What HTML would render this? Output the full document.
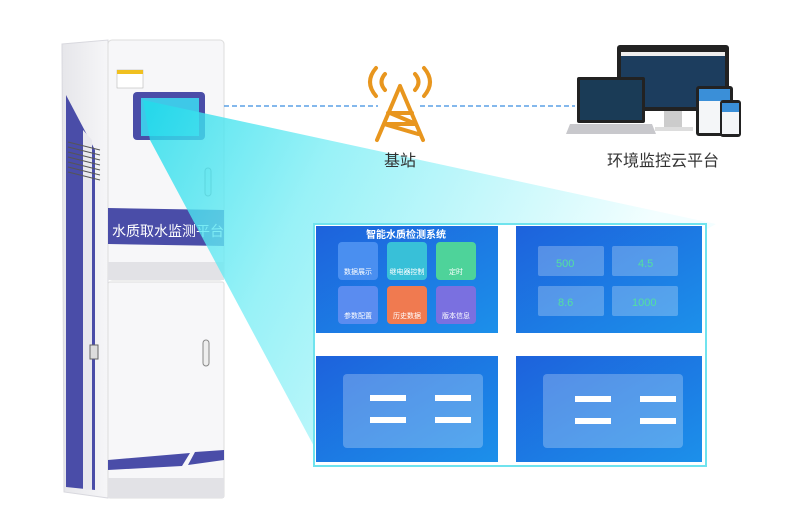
<!DOCTYPE html>
<html><head><meta charset="utf-8"><style>
html,body{margin:0;padding:0;background:#fff;width:800px;height:518px;overflow:hidden}
svg{display:block}
text{font-family:"Liberation Sans","Noto Sans CJK SC",sans-serif}
</style></head><body>
<svg width="800" height="518" viewBox="0 0 800 518" xmlns="http://www.w3.org/2000/svg">
<defs>
<linearGradient id="beam" gradientUnits="userSpaceOnUse" x1="150" y1="110" x2="600" y2="330">
<stop offset="0" stop-color="#22dceb"/><stop offset="0.35" stop-color="#7eeef5"/><stop offset="1" stop-color="#f0feff"/></linearGradient>
<linearGradient id="scr" x1="0" y1="0" x2="1" y2="1"><stop offset="0" stop-color="#1d62dc"/><stop offset="1" stop-color="#1c90ea"/></linearGradient>
<linearGradient id="side" x1="0" y1="0" x2="1" y2="0"><stop offset="0" stop-color="#e6e6ea"/><stop offset="1" stop-color="#f6f6f8"/></linearGradient>
</defs>
<!-- cabinet side -->
<polygon points="62,44 108,40 108,498 64,492" fill="url(#side)" stroke="#d8d8de"/>
<polygon points="66,95 95,150 95,490 66,487" fill="#4a4da8"/>
<polygon points="83,130 92,140 92,490 83,489" fill="#e8e8ee"/>
<g stroke="#555" stroke-width="1">
<line x1="68" y1="142" x2="100" y2="150"/><line x1="68" y1="147" x2="100" y2="155"/><line x1="68" y1="152" x2="100" y2="160"/><line x1="68" y1="157" x2="100" y2="165"/><line x1="68" y1="162" x2="100" y2="170"/><line x1="68" y1="167" x2="100" y2="175"/><line x1="68" y1="172" x2="100" y2="180"/></g>
<rect x="90" y="345" width="8" height="14" fill="#ddd" stroke="#666"/>
<!-- front -->
<rect x="108" y="40" width="116" height="240" rx="4" fill="#f7f7f9" stroke="#ddd"/>
<rect x="108" y="282" width="116" height="216" rx="2" fill="#f7f7f9" stroke="#ddd"/>
<rect x="108" y="262" width="116" height="18" fill="#e2e2e6"/>
<rect x="108" y="478" width="116" height="20" fill="#e2e2e6"/>
<polygon points="108,460 190,453 182,466 108,470" fill="#4a4da8"/>
<polygon points="195,452 224,450 224,460 188,465" fill="#4a4da8"/>
<polygon points="108,208 224,210 224,246 108,244" fill="#4a4da8"/>
<text x="112" y="236" font-size="14" fill="#fff">水质取水监测平台</text>
<rect x="117" y="70" width="26" height="18" fill="#fff" stroke="#aaa" stroke-width="0.5"/>
<rect x="117" y="70" width="26" height="4" fill="#f0c020"/>
<rect x="133" y="92" width="72" height="48" rx="4" fill="#4a4da8"/>
<rect x="141" y="98" width="58" height="38" fill="#3ec8e8"/>
<rect x="205" y="168" width="6" height="28" rx="3" fill="#e6f4f4" stroke="#999"/>
<rect x="203" y="340" width="6" height="26" rx="3" fill="#eee" stroke="#888"/>
<!-- beam -->
<polygon points="143,100 716,224 316,450 150,140" fill="url(#beam)" opacity="0.8"/>
<!-- dashed link -->
<line x1="224" y1="106" x2="378" y2="106" stroke="#3b8ee0" stroke-width="1.3" stroke-dasharray="5,3"/>
<line x1="420" y1="106" x2="575" y2="106" stroke="#3b8ee0" stroke-width="1.3" stroke-dasharray="5,3"/>
<!-- tower -->
<g stroke="#e8961e" stroke-width="4" fill="none" stroke-linecap="round">
<path d="M400,86 L377,140 M400,86 L423,140 M388,113 L412,113 M384,124 L416,124 M390,113 L416,124 M384,124 L418,134"/>
<path d="M385,74 Q378,82 385,90 M415,74 Q422,82 415,90"/>
<path d="M376,68 Q364,82 376,96 M424,68 Q436,82 424,96"/>
</g>
<text x="400" y="166" font-size="16" fill="#333" text-anchor="middle">基站</text>
<!-- devices -->
<rect x="617" y="45" width="112" height="66" rx="3" fill="#222"/>
<rect x="621" y="52" width="104" height="55" fill="#1c3d5e"/>
<rect x="621" y="52" width="104" height="4" fill="#eee"/>
<rect x="664" y="111" width="18" height="17" fill="#ccc"/>
<rect x="655" y="127" width="38" height="4" fill="#ddd"/>
<rect x="577" y="77" width="68" height="46" rx="2" fill="#222"/>
<rect x="580" y="80" width="62" height="40" fill="#1a3b56"/>
<polygon points="570,124 652,124 656,134 566,134" fill="#c8c8cc"/>
<rect x="696" y="86" width="37" height="50" rx="3" fill="#222"/>
<rect x="699" y="89" width="31" height="44" fill="#f4f6f8"/>
<rect x="699" y="89" width="31" height="12" fill="#3a8fd8"/>
<rect x="720" y="100" width="21" height="37" rx="3" fill="#222"/>
<rect x="722" y="103" width="17" height="31" fill="#f4f6f8"/>
<rect x="722" y="103" width="17" height="9" fill="#3a8fd8"/>
<text x="663" y="166" font-size="16" fill="#333" text-anchor="middle">环境监控云平台</text>
<!-- screens -->
<rect x="314" y="224" width="392" height="242" fill="#fff" stroke="#6fe3ee" stroke-width="2"/>
<rect x="316" y="226" width="182" height="107" fill="url(#scr)"/>
<rect x="516" y="226" width="186" height="107" fill="url(#scr)"/>
<rect x="316" y="356" width="182" height="106" fill="url(#scr)"/>
<rect x="516" y="356" width="186" height="106" fill="url(#scr)"/>
<text x="406" y="238" font-size="10" font-weight="bold" fill="#fff" text-anchor="middle">智能水质检测系统</text>
<g font-size="7" fill="#fff" text-anchor="middle">
<rect x="338" y="242" width="40" height="38" rx="4" fill="#4a8ff0"/><text x="358" y="274">数据展示</text>
<rect x="387" y="242" width="40" height="38" rx="4" fill="#38c0d8"/><text x="407" y="274">继电器控制</text>
<rect x="436" y="242" width="40" height="38" rx="4" fill="#4ed39a"/><text x="456" y="274">定时</text>
<rect x="338" y="286" width="40" height="38" rx="4" fill="#5a8cf0"/><text x="358" y="318">参数配置</text>
<rect x="387" y="286" width="40" height="38" rx="4" fill="#f07a50"/><text x="407" y="318">历史数据</text>
<rect x="436" y="286" width="40" height="38" rx="4" fill="#7a70e0"/><text x="456" y="318">版本信息</text>
</g>
<g fill="#ffffff" fill-opacity="0.25">
<rect x="538" y="246" width="66" height="30" rx="2"/><rect x="612" y="246" width="66" height="30" rx="2"/>
<rect x="538" y="286" width="66" height="30" rx="2"/><rect x="612" y="286" width="66" height="30" rx="2"/>
<rect x="343" y="374" width="140" height="74" rx="4"/><rect x="543" y="374" width="140" height="74" rx="4"/>
</g>
<g font-size="11" fill="#52e0a0">
<text x="556" y="267">500</text><text x="638" y="267">4.5</text><text x="558" y="306">8.6</text><text x="632" y="306">1000</text></g>
<g fill="#fff">
<rect x="370" y="395" width="36" height="6"/><rect x="435" y="395" width="36" height="6"/>
<rect x="370" y="417" width="36" height="6"/><rect x="435" y="417" width="36" height="6"/>
<rect x="575" y="396" width="36" height="6"/><rect x="640" y="396" width="36" height="6"/>
<rect x="575" y="418" width="36" height="6"/><rect x="640" y="418" width="36" height="6"/>
</g>
</svg>
</body></html>
